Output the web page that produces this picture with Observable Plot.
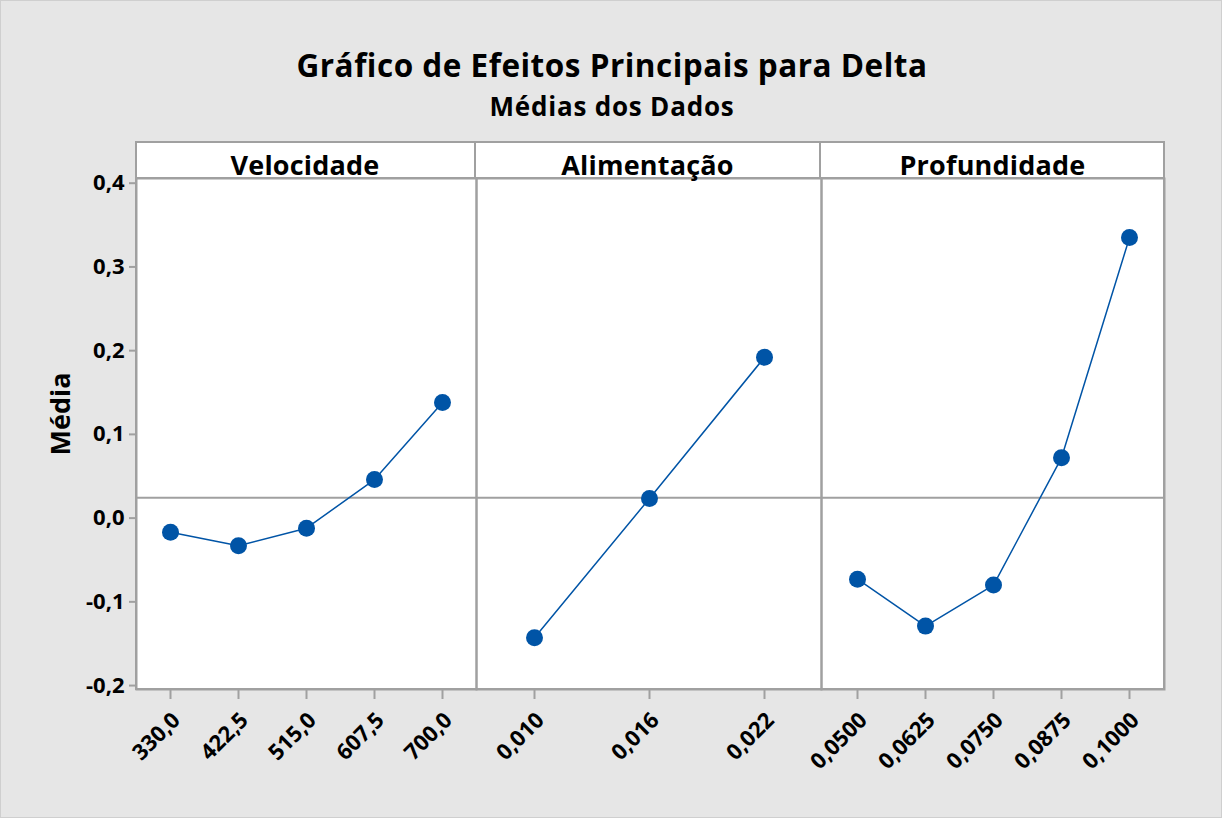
<!DOCTYPE html>
<html>
<head>
<meta charset="utf-8">
<script src="https://cdn.jsdelivr.net/npm/d3@7"></script>
<script src="https://cdn.jsdelivr.net/npm/@observablehq/plot@0.6"></script>
<style>
  html, body { margin: 0; padding: 0; background: #e6e6e6; }
  #chart { position: relative; width: 1220px; height: 816px; background: #e6e6e6; border: 1px solid #cfcfcf; font-family: "Open Sans", sans-serif; overflow: hidden; }
  .title { position: absolute; left: 0; width: 1222px; text-align: center; font-weight: bold; color: #000; line-height: 1; white-space: nowrap; }
  .box { position: absolute; left: 134px; top: 140px; width: 1030px; height: 549px; background: #fff; border: 2px solid #a0a0a0; box-sizing: border-box; }
  .strip { position: absolute; top: 140px; height: 38px; box-sizing: border-box; border-bottom: 2px solid #a0a0a0; text-align: center; font-weight: bold; font-size: 27px; letter-spacing: 0.2px; line-height: 1; }
  .strip span { position: absolute; left: 0; right: 0; top: 10px; white-space: nowrap; }
  .ylabel { position: absolute; left: 58px; top: 413px; transform: translate(-50%, -50%) rotate(-90deg); font-weight: bold; font-size: 27px; line-height: 1; white-space: nowrap; }
  svg { position: absolute; top: 141px; }
</style>
</head>
<body>
<div id="chart">
  <div class="title" style="top:48px;font-size:31.5px;letter-spacing:0.5px;">Gráfico de Efeitos Principais para Delta</div>
  <div class="title" style="top:92px;font-size:26px;letter-spacing:0.8px;">Médias dos Dados</div>
  <div class="box"></div>
  <div class="ylabel">Média</div>
</div>
<script>
// Factor names
const factors = ["Velocidade", "Alimentação", "Profundidade"];
// Level labels per factor
const velocidadeLevels = ["330,0", "422,5", "515,0", "607,5", "700,0"];
const alimentacaoLevels = ["0,010", "0,016", "0,022"];
const profundidadeLevels = ["0,0500", "0,0625", "0,0750", "0,0875", "0,1000"];
// Means
const velocidadeMeans = [-0.017, -0.033, -0.012, 0.046, 0.138];
const alimentacaoMeans = [-0.143, 0.0235, 0.192];
const profundidadeMeans = [-0.073, -0.129, -0.080, 0.072, 0.335];
// Y axis ticks
const yTicks = [-0.2, -0.1, 0.0, 0.1, 0.2, 0.3, 0.4];
const yDomain = [-0.2047, 0.4056];

const grandMean = d3.mean(velocidadeMeans);
const blue = "#0054a6";
const gray = "#a0a0a0";
const fmtY = d => d.toFixed(1).replace(".", ",").replace("-0,0", "0,0");

const panels = [
  {name: factors[0], levels: velocidadeLevels, means: velocidadeMeans, left: 0, width: 475, marginLeft: 135},
  {name: factors[1], levels: alimentacaoLevels, means: alimentacaoMeans, left: 475, width: 345, marginLeft: 0},
  {name: factors[2], levels: profundidadeLevels, means: profundidadeMeans, left: 820, width: 343, marginLeft: 0}
];

const chart = document.getElementById("chart");

panels.forEach((p, i) => {
  const data = p.levels.map((l, j) => ({level: l, mean: p.means[j]}));
  const marks = [
    Plot.frame({stroke: gray, strokeWidth: 2}),
    Plot.ruleY([grandMean], {stroke: gray, strokeWidth: 2}),
    Plot.line(data, {x: "level", y: "mean", stroke: blue, strokeWidth: 1.5}),
    Plot.dot(data, {x: "level", y: "mean", r: 8.5, fill: blue, stroke: "none"}),
    Plot.axisX({tickSize: 10, stroke: gray, strokeWidth: 2, tickFormat: () => "", label: null}),
    Plot.axisX({tickSize: 0, tickRotate: -45, tickPadding: 27, dx: 6, fill: "#000", label: null})
  ];
  if (i === 0) {
    marks.push(Plot.axisY({ticks: yTicks, tickFormat: fmtY, tickSize: 7, stroke: gray, strokeWidth: 2, tickPadding: 5, fill: "#000", label: null}));
  }
  const svg = Plot.plot({
    width: p.width,
    height: 647,
    marginLeft: p.marginLeft,
    marginRight: 0,
    marginTop: 36,
    marginBottom: 100,
    style: {background: "transparent", overflow: "visible", fontFamily: "Open Sans, sans-serif", fontWeight: "bold", fontSize: "22px", color: "#000"},
    x: {type: "point", domain: p.levels, padding: 0.5, axis: null},
    y: {domain: yDomain, axis: null},
    marks
  });
  svg.style.left = p.left + "px";
  chart.appendChild(svg);

  const strip = document.createElement("div");
  strip.className = "strip";
  const sl = p.left + p.marginLeft;
  const sw = p.width - p.marginLeft;
  strip.style.left = sl + "px";
  strip.style.width = sw + "px";
  if (i < 2) strip.style.borderRight = "2px solid " + gray;
  strip.innerHTML = "<span>" + p.name + "</span>";
  chart.appendChild(strip);
});
</script>
</body>
</html>
